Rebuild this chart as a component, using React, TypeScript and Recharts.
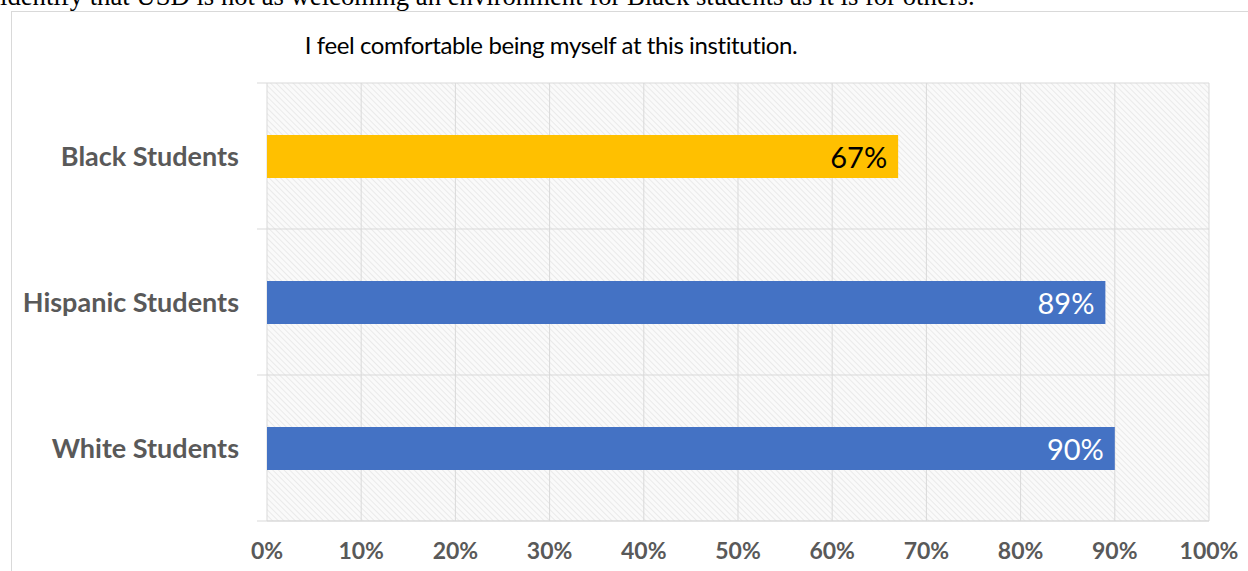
import React from 'react';
import { BarChart, Bar, XAxis, YAxis, CartesianGrid, Cell, LabelList, usePlotArea } from 'recharts';

const categories = ['Black Students', 'Hispanic Students', 'White Students'];
const agreeShare = [67, 89, 90];
const barColors = ['#FFC000', '#4472C4', '#4472C4'];
const labelColors = ['#000000', '#ffffff', '#ffffff'];
const xTicks = [0, 10, 20, 30, 40, 50, 60, 70, 80, 90, 100];

const FONT = 'Lato, "Open Sans", sans-serif';

const rows = categories.map((name, i) => ({ name, value: agreeShare[i] }));

// short tick marks left of the plot, at the category boundaries
const CategoryTicks = () => {
  const area = usePlotArea();
  if (!area) return null;
  const step = area.height / categories.length;
  return (
    <g>
      {Array.from({ length: categories.length + 1 }, (_, i) => (
        <line key={i} x1={area.x - 10} x2={area.x} y1={area.y + i * step} y2={area.y + i * step} stroke="#d9d9d9" strokeWidth={1} />
      ))}
    </g>
  );
};

const BarValue = (props: any) => {
  const { x, y, width, height, value, index } = props;
  return (
    <text x={x + width - 11} y={y + height / 2} textAnchor="end" dominantBaseline="central"
      fill={labelColors[index]} fontFamily={FONT} fontSize={29}>
      {value}%
    </text>
  );
};

export default function App() {
  return (
    <div style={{ position: 'absolute', left: 0, top: 0, width: 1248, height: 571, overflow: 'hidden', background: '#fff' }}>
      <div style={{ position: 'absolute', left: 0, top: -17, lineHeight: 1, fontFamily: '"Liberation Serif", serif', fontSize: 26.7, whiteSpace: 'nowrap', color: '#000' }}>
        identify that USD is not as welcoming an environment for Black students as it is for others.
      </div>
      <div style={{ position: 'absolute', left: 11, top: 11, width: 1260, height: 600, border: '1px solid #d9d9d9', boxSizing: 'border-box' }} />
      <div style={{ position: 'absolute', left: 0, top: 44, width: 1248, textAlign: 'center', transform: 'translate(-73px, -50%)', fontFamily: FONT, fontSize: 24, letterSpacing: -0.4, color: '#000' }}>
        I feel comfortable being myself at this institution.
      </div>
      <div style={{ position: 'absolute', left: 933, top: 167, fontFamily: FONT, fontWeight: 700, fontSize: 24, color: '#000', whiteSpace: 'nowrap' }}>
        Strongly Agree/Agree
      </div>
      <div style={{ position: 'absolute', left: 0, top: 0 }}>
        <BarChart width={1248} height={571} data={rows} layout="vertical"
          margin={{ top: 83, right: 39, bottom: 0, left: 0 }}>
          <defs>
            <pattern id="hatch" width="4" height="4" patternUnits="userSpaceOnUse" patternTransform="rotate(-45)">
              <rect width="4" height="4" fill="#fafafa" />
              <line x1="0" y1="0" x2="0" y2="4" stroke="#e6e6e6" strokeWidth="1.6" />
            </pattern>
          </defs>
          <CartesianGrid stroke="#d9d9d9" fill="url(#hatch)" fillOpacity={1}
            horizontalCoordinatesGenerator={({ offset }: any) =>
              categories.map((_, i) => offset.top + (i * offset.height) / categories.length).concat([offset.top + offset.height])} />
          <XAxis type="number" domain={[0, 100]} ticks={xTicks} tickFormatter={(v: number) => `${v}%`}
            height={50} axisLine={{ stroke: '#d9d9d9' }} tickLine={false} tickSize={6} tickMargin={16}
            tick={{ fill: '#595959', fontFamily: FONT, fontWeight: 700, fontSize: 23 }} />
          <YAxis type="category" dataKey="name" width={267} axisLine={false} tickLine={false}
            tickSize={6} tickMargin={22}
            tick={{ fill: '#595959', fontFamily: FONT, fontWeight: 700, fontSize: 27 }} />
          <Bar dataKey="value" barSize={43} isAnimationActive={false}>
            {rows.map((r, i) => (
              <Cell key={r.name} fill={barColors[i]} />
            ))}
            <LabelList dataKey="value" content={BarValue} />
          </Bar>
          <CategoryTicks />
        </BarChart>
      </div>
    </div>
  );
}
